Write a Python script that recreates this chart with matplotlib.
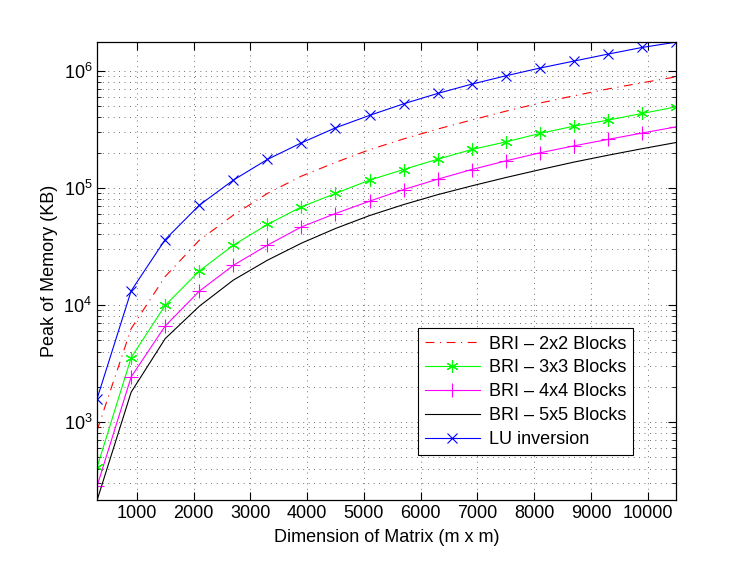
import numpy as np
import matplotlib
matplotlib.use("Agg")
import matplotlib.pyplot as plt
from matplotlib.ticker import LogLocator, FixedLocator, NullFormatter

# ---------- DATA ----------
dims = [300, 900, 1500, 2100, 2700, 3300, 3900, 4500, 5100, 5700,
        6300, 6900, 7500, 8100, 8700, 9300, 9900, 10500]

bri_2x2 = [850, 6280, 17500, 35700, 58500, 89600, 126000, 165000, 212000, 262000,
           318000, 380000, 452000, 530000, 612000, 700000, 790000, 888000]
bri_3x3 = [412, 3550, 9930, 19500, 32400, 48700, 68900, 89600, 116500, 143500,
           175800, 212800, 247000, 291600, 336600, 379000, 432000, 492000]
bri_4x4 = [284, 2430, 6620, 13100, 21800, 32400, 46400, 60400, 77000, 96800,
           118600, 143500, 170100, 199200, 228500, 259400, 293900, 332000]
bri_5x5 = [215, 1800, 5160, 9750, 16300, 24100, 33700, 45000, 58000, 72000,
           87500, 104000, 122500, 143000, 166000, 190000, 216000, 244000]
lu_inv = [1585, 13200, 36200, 71100, 116500, 175000, 242600, 325800, 416000, 522500,
          641000, 769000, 906000, 1055000, 1210000, 1389000, 1582000, 1757000]

series_labels = ["BRI \u2013 2x2 Blocks", "BRI \u2013 3x3 Blocks", "BRI \u2013 4x4 Blocks",
                 "BRI \u2013 5x5 Blocks", "LU inversion"]
x_ticks = [1000, 2000, 3000, 4000, 5000, 6000, 7000, 8000, 9000, 10000]
# ---------------------------------------------------

FS = 13
plt.rcParams['font.family'] = ['Liberation Sans', 'DejaVu Sans']
plt.rcParams['mathtext.fontset'] = 'custom'
plt.rcParams['mathtext.rm'] = 'Liberation Sans'

ASTERISK = (6, 2, 0)

fig = plt.figure(figsize=(7.47, 5.62), dpi=100)
ax = fig.add_axes([0.13, 0.11, 0.775, 0.815])

ax.plot(dims, bri_2x2, color=(1, 0, 0), ls=(0, (8, 5, 1, 5)), lw=0.8, label=series_labels[0])
ax.plot(dims, bri_3x3, color=(0, 1, 0), lw=0.8, marker=ASTERISK, ms=9, mew=0.8, label=series_labels[1])
ax.plot(dims, bri_4x4, color=(1, 0, 1), lw=0.8, marker='+', ms=10, mew=0.8, label=series_labels[2])
ax.plot(dims, bri_5x5, color='k', lw=0.8, label=series_labels[3])
ax.plot(dims, lu_inv, color=(0, 0, 1), lw=0.8, marker='x', ms=7.5, mew=0.8, label=series_labels[4])

ax.set_yscale('log')
allv = bri_2x2 + bri_3x3 + bri_4x4 + bri_5x5 + lu_inv
ax.set_xlim(min(dims), max(dims))
ax.set_ylim(min(allv), max(allv))

ax.xaxis.set_major_locator(FixedLocator(x_ticks))
ax.set_xticklabels([str(t) for t in x_ticks])
ax.yaxis.set_major_locator(LogLocator(base=10, numticks=10))
ax.yaxis.set_minor_locator(LogLocator(base=10, subs=np.arange(2, 10), numticks=20))
ax.yaxis.set_minor_formatter(NullFormatter())

# matlab-ish dotted grid
grid_style = dict(color='k', ls=(0, (1, 5.5)), lw=0.6, alpha=0.75)
ax.grid(True, which='major', axis='both', **grid_style)
ax.grid(True, which='minor', axis='y', **grid_style)
ax.set_axisbelow(True)

ax.tick_params(which='both', direction='in', top=True, right=True, labelsize=FS)
ax.tick_params(which='major', length=6, width=0.8)
ax.tick_params(which='minor', length=3, width=0.6)
for s in ax.spines.values():
    s.set_linewidth(0.9)

ax.set_xlabel("Dimension of Matrix (m x m)", fontsize=FS, labelpad=5)
ax.set_ylabel("Peak of Memory (KB)", fontsize=FS)

leg = ax.legend(loc='lower right', bbox_to_anchor=(0.926, 0.098), fontsize=FS,
                fancybox=False, framealpha=1, edgecolor='k', handlelength=3.0,
                borderpad=0.4, labelspacing=0.38, handletextpad=0.5, borderaxespad=0)
leg.get_frame().set_linewidth(0.8)

fig.savefig("out.png", dpi=100)
